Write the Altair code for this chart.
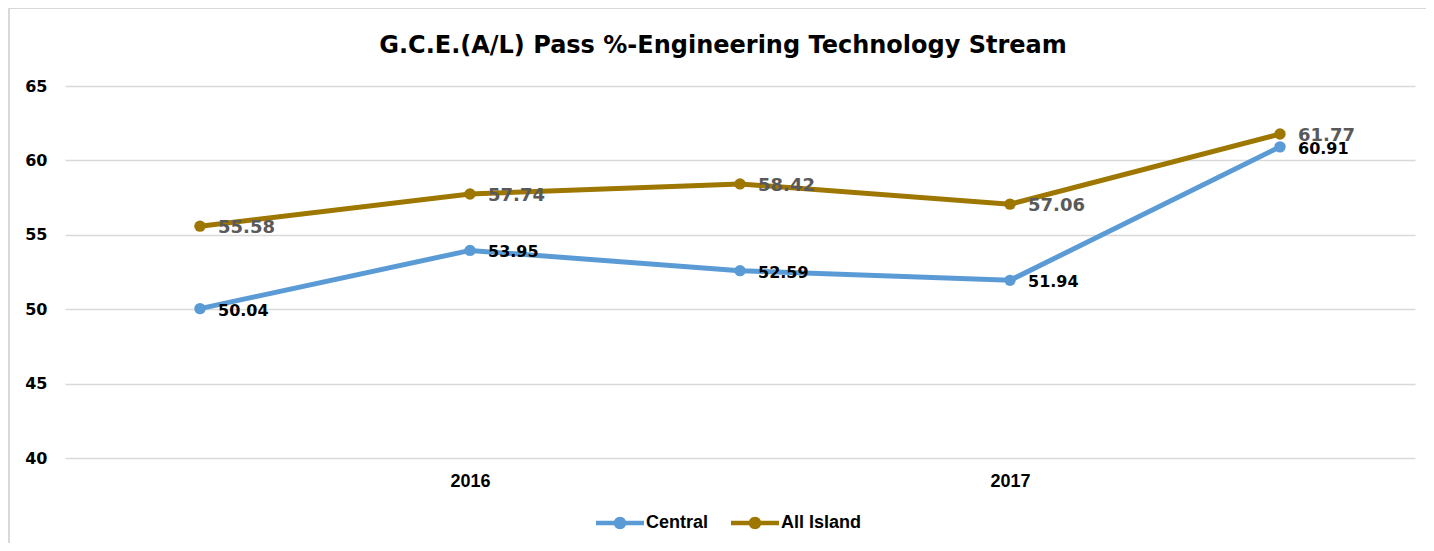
import json
import altair as alt
import pandas as pd

# ---- data ----
positions = [0, 1, 2, 3, 4]
tick_labels = ["", "2016", "", "2017", ""]
central = [50.04, 53.95, 52.59, 51.94, 60.91]
all_island = [55.58, 57.74, 58.42, 57.06, 61.77]
series_names = ["Central", "All Island"]
series_colors = ["#5B9BD5", "#9E7700"]

rows = []
for p, v in zip(positions, central):
    rows.append({"pos": p, "series": "Central", "value": v})
for p, v in zip(positions, all_island):
    rows.append({"pos": p, "series": "All Island", "value": v})
df = pd.DataFrame(rows)

label_expr = json.dumps(tick_labels) + "[datum.value]"

color_scale = alt.Scale(domain=series_names, range=series_colors)

x_enc = alt.X(
    "pos:O",
    title=None,
    scale=alt.Scale(padding=0.5),
    axis=alt.Axis(
        labelExpr=label_expr,
        labelAngle=0,
        ticks=False,
        domain=False,
        grid=False,
        labelPadding=14,
        labelFont="Liberation Sans",
        labelFontSize=18,
        labelFontWeight="bold",
        labelColor="#000000",
    ),
)
y_enc = alt.Y(
    "value:Q",
    title=None,
    scale=alt.Scale(domain=[40, 65], nice=False, zero=False),
    axis=alt.Axis(
        values=[40, 45, 50, 55, 60, 65],
        ticks=False,
        domain=False,
        grid=True,
        gridColor="#D9D9D9",
        gridWidth=1.5,
        labelPadding=18,
        labelFont="DejaVu Sans",
        labelFontSize=16,
        labelFontWeight="bold",
        labelColor="#000000",
    ),
)

legend_path = (
    "M-1,-0.09 L1,-0.09 L1,0.09 L-1,0.09 Z "
    "M0.26,0 A0.26,0.26 0 1,1 -0.26,0 A0.26,0.26 0 1,1 0.26,0 Z"
)

legend = alt.Legend(
    title=None,
    orient="none",
    direction="horizontal",
    legendX=531,
    legendY=413,
    symbolType=legend_path,
    symbolSize=2304,
    symbolStrokeWidth=0,
    symbolOpacity=1,
    labelFont="Liberation Sans",
    labelFontSize=18,
    labelFontWeight="bold",
    labelColor="#000000",
    labelOffset=2,
    columnPadding=22,
)

base = alt.Chart(df)

lines = base.mark_line(strokeWidth=5).encode(
    x=x_enc,
    y=y_enc,
    color=alt.Color("series:N", scale=color_scale, legend=legend),
)

points = base.mark_point(filled=True, size=130, opacity=1).encode(
    x=x_enc,
    y=y_enc,
    color=alt.Color("series:N", scale=color_scale, legend=legend),
)

text_central = base.transform_filter(alt.datum.series == "Central").mark_text(
    align="left", baseline="middle", dx=18, dy=2,
    font="DejaVu Sans", fontSize=16, fontWeight="bold", color="#000000",
).encode(x=x_enc, y=y_enc, text=alt.Text("value:Q", format=".2f"))

text_island = base.transform_filter(alt.datum.series == "All Island").mark_text(
    align="left", baseline="middle", dx=18, dy=2,
    font="DejaVu Sans", fontSize=18, fontWeight="bold", color="#595959",
).encode(x=x_enc, y=y_enc, text=alt.Text("value:Q", format=".2f"))

frame = alt.Chart(pd.DataFrame({"f": [0]})).mark_rect(
    fill="transparent", stroke="#D9D9D9", strokeWidth=2, clip=False
).encode(
    x=alt.value(-56), x2=alt.value(1400),
    y=alt.value(-78), y2=alt.value(500),
)

chart = (
    alt.layer(frame, lines, points, text_central, text_island)
    .properties(
        width=1350,
        height=372,
        padding={"left": 57, "top": 78, "right": 11, "bottom": 85},
        autosize=alt.AutoSizeParams(type="none"),
        title=alt.TitleParams(
            text="G.C.E.(A/L) Pass %-Engineering Technology Stream",
            font="DejaVu Sans",
            fontSize=24,
            fontWeight="bold",
            color="#000000",
            anchor="middle",
            dx=-17,
            offset=-51,
        ),
    )
    .configure(background="white")
    .configure_view(strokeWidth=0, stroke="transparent")
)

chart.save("out.html", embed_options={"renderer": "svg", "actions": False})
